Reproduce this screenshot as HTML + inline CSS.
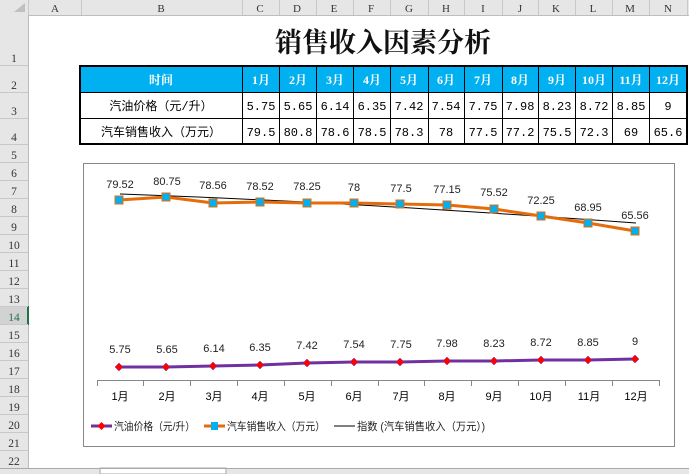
<!DOCTYPE html>
<html><head><meta charset="utf-8"><style>
html,body{margin:0;padding:0;background:#fff;}
svg{display:block;font-family:"Liberation Sans","Noto Sans CJK SC",sans-serif;}
</style></head><body>
<svg width="689" height="474" viewBox="0 0 689 474" xmlns="http://www.w3.org/2000/svg">
<rect width="689" height="474" fill="#fff"/>
<rect x="0" y="0" width="689" height="15" fill="#e6e6e6"/>
<line x1="0" y1="15.5" x2="689" y2="15.5" stroke="#bdbdbd"/>
<g stroke="#c8c8c8">
<line x1="28.5" y1="0" x2="28.5" y2="15"/><line x1="81.5" y1="0" x2="81.5" y2="15"/><line x1="242.5" y1="0" x2="242.5" y2="15"/>
<line x1="279.5" y1="0" x2="279.5" y2="15"/><line x1="316.5" y1="0" x2="316.5" y2="15"/><line x1="353.5" y1="0" x2="353.5" y2="15"/>
<line x1="390.5" y1="0" x2="390.5" y2="15"/><line x1="428.5" y1="0" x2="428.5" y2="15"/><line x1="464.5" y1="0" x2="464.5" y2="15"/>
<line x1="502.5" y1="0" x2="502.5" y2="15"/><line x1="538.5" y1="0" x2="538.5" y2="15"/><line x1="575.5" y1="0" x2="575.5" y2="15"/>
<line x1="612.5" y1="0" x2="612.5" y2="15"/><line x1="649.5" y1="0" x2="649.5" y2="15"/><line x1="687.5" y1="0" x2="687.5" y2="15"/>
</g>
<polygon points="14,12 25,12 25,3" fill="#c0c0c0"/>
<g font-family="Liberation Serif,serif" font-size="11" fill="#333" text-anchor="middle">
<text x="55" y="12">A</text><text x="161" y="12">B</text><text x="260" y="12">C</text><text x="297" y="12">D</text><text x="334" y="12">E</text>
<text x="371" y="12">F</text><text x="409" y="12">G</text><text x="446" y="12">H</text><text x="483" y="12">I</text><text x="520" y="12">J</text>
<text x="556" y="12">K</text><text x="593" y="12">L</text><text x="630" y="12">M</text><text x="668" y="12">N</text>
</g>
<rect x="0" y="15" width="28" height="453" fill="#e6e6e6"/>
<line x1="28.5" y1="15" x2="28.5" y2="468" stroke="#bdbdbd"/>
<rect x="0" y="306" width="28" height="19" fill="#d2d2d2"/>
<rect x="27" y="306" width="2" height="19" fill="#217346"/>
<g stroke="#c8c8c8">
<line x1="0" y1="65.5" x2="28" y2="65.5"/><line x1="0" y1="92.5" x2="28" y2="92.5"/><line x1="0" y1="118.5" x2="28" y2="118.5"/><line x1="0" y1="144.5" x2="28" y2="144.5"/>
<line x1="0" y1="162.5" x2="28" y2="162.5"/><line x1="0" y1="180.5" x2="28" y2="180.5"/><line x1="0" y1="198.5" x2="28" y2="198.5"/><line x1="0" y1="216.5" x2="28" y2="216.5"/>
<line x1="0" y1="234.5" x2="28" y2="234.5"/><line x1="0" y1="252.5" x2="28" y2="252.5"/><line x1="0" y1="270.5" x2="28" y2="270.5"/><line x1="0" y1="288.5" x2="28" y2="288.5"/>
<line x1="0" y1="306.5" x2="28" y2="306.5"/><line x1="0" y1="324.5" x2="28" y2="324.5"/><line x1="0" y1="342.5" x2="28" y2="342.5"/><line x1="0" y1="360.5" x2="28" y2="360.5"/>
<line x1="0" y1="378.5" x2="28" y2="378.5"/><line x1="0" y1="396.5" x2="28" y2="396.5"/><line x1="0" y1="414.5" x2="28" y2="414.5"/><line x1="0" y1="432.5" x2="28" y2="432.5"/>
<line x1="0" y1="450.5" x2="28" y2="450.5"/>
</g>
<g font-family="Liberation Serif,serif" font-size="11.5" fill="#333" text-anchor="middle">
<text x="14" y="62">1</text><text x="14" y="89">2</text><text x="14" y="115">3</text><text x="14" y="141">4</text>
<text x="14" y="159">5</text><text x="14" y="177">6</text><text x="14" y="195">7</text><text x="14" y="213">8</text><text x="14" y="231">9</text>
<text x="14" y="249">10</text><text x="14" y="267">11</text><text x="14" y="285">12</text><text x="14" y="303">13</text><text x="14" y="321" fill="#217346">14</text>
<text x="14" y="339">15</text><text x="14" y="357">16</text><text x="14" y="375">17</text><text x="14" y="393">18</text><text x="14" y="411">19</text>
<text x="14" y="429">20</text><text x="14" y="447">21</text><text x="14" y="465">22</text>
</g>
<rect x="0" y="468" width="689" height="6" fill="#e6e6e6"/>
<rect x="100" y="468" width="126" height="6" fill="#fff" stroke="#aaa"/>
<line x1="0" y1="468.5" x2="689" y2="468.5" stroke="#aaa"/>
<text x="383" y="52" text-anchor="middle" font-family="'Noto Serif CJK SC',serif" font-weight="bold" font-size="27" fill="#111">销售收入因素分析</text>
<rect x="80" y="66" width="607" height="26" fill="#00b0f0"/>
<g stroke="#000" stroke-width="1">
<line x1="80" y1="92.5" x2="687" y2="92.5"/><line x1="80" y1="118.5" x2="687" y2="118.5"/>
<line x1="242.5" y1="66" x2="242.5" y2="144"/><line x1="279.5" y1="66" x2="279.5" y2="144"/><line x1="316.5" y1="66" x2="316.5" y2="144"/>
<line x1="353.5" y1="66" x2="353.5" y2="144"/><line x1="390.5" y1="66" x2="390.5" y2="144"/><line x1="428.5" y1="66" x2="428.5" y2="144"/>
<line x1="464.5" y1="66" x2="464.5" y2="144"/><line x1="502.5" y1="66" x2="502.5" y2="144"/><line x1="538.5" y1="66" x2="538.5" y2="144"/>
<line x1="575.5" y1="66" x2="575.5" y2="144"/><line x1="612.5" y1="66" x2="612.5" y2="144"/><line x1="649.5" y1="66" x2="649.5" y2="144"/>
</g>
<rect x="80" y="66" width="607" height="78" fill="none" stroke="#000" stroke-width="2"/>
<g font-size="12" font-weight="bold" fill="#fff" text-anchor="middle" font-family="'Liberation Serif','Noto Serif CJK SC',serif">
<text x="161" y="84">时间</text><text x="261" y="84">1月</text><text x="298" y="84">2月</text><text x="335" y="84">3月</text><text x="372" y="84">4月</text>
<text x="409" y="84">5月</text><text x="446" y="84">6月</text><text x="483" y="84">7月</text><text x="520" y="84">8月</text><text x="557" y="84">9月</text>
<text x="594" y="84">10月</text><text x="631" y="84">11月</text><text x="668" y="84">12月</text>
</g>
<g font-size="12" fill="#000" text-anchor="middle" font-family="'Liberation Mono','Noto Sans CJK SC',monospace">
<text x="161" y="110">汽油价格（元/升）</text>
<text x="261" y="110">5.75</text><text x="298" y="110">5.65</text><text x="335" y="110">6.14</text><text x="372" y="110">6.35</text><text x="409" y="110">7.42</text>
<text x="446" y="110">7.54</text><text x="483" y="110">7.75</text><text x="520" y="110">7.98</text><text x="557" y="110">8.23</text><text x="594" y="110">8.72</text>
<text x="631" y="110">8.85</text><text x="668" y="110">9</text>
<text x="161" y="136">汽车销售收入（万元）</text>
<text x="261" y="136">79.5</text><text x="298" y="136">80.8</text><text x="335" y="136">78.6</text><text x="372" y="136">78.5</text><text x="409" y="136">78.3</text>
<text x="446" y="136">78</text><text x="483" y="136">77.5</text><text x="520" y="136">77.2</text><text x="557" y="136">75.5</text><text x="594" y="136">72.3</text>
<text x="631" y="136">69</text><text x="668" y="136">65.6</text>
</g>
<rect x="83.5" y="163.5" width="591" height="283" fill="#fff" stroke="#888"/>
<line x1="97" y1="380.5" x2="660" y2="380.5" stroke="#888"/>
<g stroke="#888">
<line x1="97.5" y1="380" x2="97.5" y2="386"/><line x1="143.5" y1="380" x2="143.5" y2="386"/><line x1="190.5" y1="380" x2="190.5" y2="386"/>
<line x1="237.5" y1="380" x2="237.5" y2="386"/><line x1="284.5" y1="380" x2="284.5" y2="386"/><line x1="331.5" y1="380" x2="331.5" y2="386"/>
<line x1="378.5" y1="380" x2="378.5" y2="386"/><line x1="424.5" y1="380" x2="424.5" y2="386"/><line x1="471.5" y1="380" x2="471.5" y2="386"/>
<line x1="518.5" y1="380" x2="518.5" y2="386"/><line x1="565.5" y1="380" x2="565.5" y2="386"/><line x1="612.5" y1="380" x2="612.5" y2="386"/>
<line x1="659.5" y1="380" x2="659.5" y2="386"/>
</g>
<g font-size="11" fill="#000" text-anchor="middle">
<text x="120" y="400">1月</text><text x="167" y="400">2月</text><text x="214" y="400">3月</text><text x="260" y="400">4月</text>
<text x="307" y="400">5月</text><text x="354" y="400">6月</text><text x="401" y="400">7月</text><text x="447" y="400">8月</text>
<text x="494" y="400">9月</text><text x="541" y="400">10月</text><text x="589" y="400">11月</text><text x="636" y="400">12月</text>
</g>
<path d="M120,194 C260,199 400,206 636,223" fill="none" stroke="#000" stroke-width="1"/>
<polyline points="119,200 166,197 213,203 260,202 307,203 354,203 400,204 447,205 494,209 541,216 588,223 635,231" fill="none" stroke="#e46c0a" stroke-width="3" stroke-linejoin="round"/>
<g fill="#00b0f0" stroke="#e46c0a" stroke-width="1">
<rect x="115" y="196" width="8" height="8"/><rect x="162" y="193" width="8" height="8"/><rect x="209" y="199" width="8" height="8"/>
<rect x="256" y="198" width="8" height="8"/><rect x="303" y="199" width="8" height="8"/><rect x="350" y="199" width="8" height="8"/>
<rect x="396" y="200" width="8" height="8"/><rect x="443" y="201" width="8" height="8"/><rect x="490" y="205" width="8" height="8"/>
<rect x="537" y="212" width="8" height="8"/><rect x="584" y="219" width="8" height="8"/><rect x="631" y="227" width="8" height="8"/>
</g>
<g font-size="11" fill="#222" text-anchor="middle">
<text x="120" y="188">79.52</text><text x="167" y="185">80.75</text><text x="213" y="189">78.56</text><text x="260" y="190">78.52</text>
<text x="307" y="190">78.25</text><text x="354" y="191">78</text><text x="401" y="192">77.5</text><text x="447" y="193">77.15</text>
<text x="494" y="196">75.52</text><text x="541" y="204">72.25</text><text x="588" y="211">68.95</text><text x="635" y="219">65.56</text>
</g>
<polyline points="119,367 166,367 213,366 260,365 307,363 354,362 400,362 447,361 494,361 541,360 588,360 635,359" fill="none" stroke="#7030a0" stroke-width="3" stroke-linejoin="round"/>
<g fill="#ff0000" stroke="#7030a0" stroke-width="0.5">
<polygon points="119,363 123,367 119,371 115,367"/><polygon points="166,363 170,367 166,371 162,367"/><polygon points="213,362 217,366 213,370 209,366"/>
<polygon points="260,361 264,365 260,369 256,365"/><polygon points="307,359 311,363 307,367 303,363"/><polygon points="354,358 358,362 354,366 350,362"/>
<polygon points="400,358 404,362 400,366 396,362"/><polygon points="447,357 451,361 447,365 443,361"/><polygon points="494,357 498,361 494,365 490,361"/>
<polygon points="541,356 545,360 541,364 537,360"/><polygon points="588,356 592,360 588,364 584,360"/><polygon points="635,355 639,359 635,363 631,359"/>
</g>
<g font-size="11" fill="#222" text-anchor="middle">
<text x="120" y="353">5.75</text><text x="167" y="353">5.65</text><text x="214" y="352">6.14</text><text x="260" y="351">6.35</text>
<text x="307" y="349">7.42</text><text x="354" y="348">7.54</text><text x="401" y="348">7.75</text><text x="447" y="347">7.98</text>
<text x="494" y="347">8.23</text><text x="541" y="346">8.72</text><text x="588" y="346">8.85</text><text x="635" y="345">9</text>
</g>
<line x1="91" y1="426" x2="112" y2="426" stroke="#7030a0" stroke-width="3"/>
<polygon points="101.5,422 105.5,426 101.5,430 97.5,426" fill="#ff0000"/>
<text x="114" y="430" font-size="11" fill="#222" textLength="81" lengthAdjust="spacingAndGlyphs">汽油价格（元/升）</text>
<line x1="204" y1="426" x2="225" y2="426" stroke="#e46c0a" stroke-width="3"/>
<rect x="211" y="422" width="7" height="8" fill="#00b0f0"/>
<text x="227" y="430" font-size="11" fill="#222" textLength="98" lengthAdjust="spacingAndGlyphs">汽车销售收入（万元）</text>
<line x1="334" y1="426" x2="355" y2="426" stroke="#000" stroke-width="1"/>
<text x="357" y="430" font-size="11" fill="#222" textLength="128" lengthAdjust="spacingAndGlyphs">指数 (汽车销售收入（万元）)</text>
</svg>
</body></html>
